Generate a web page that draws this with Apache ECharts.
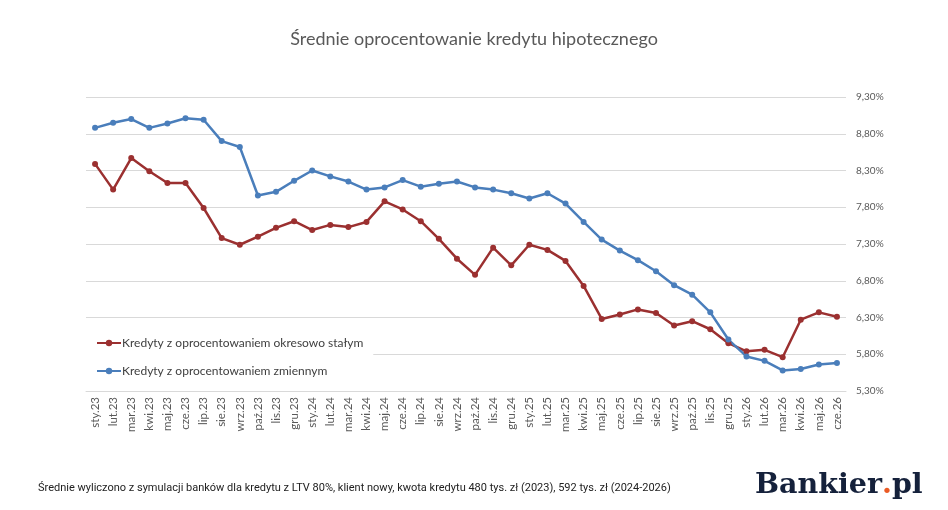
<!DOCTYPE html>
<html>
<head>
<meta charset="utf-8">
<script src="https://cdn.jsdelivr.net/npm/echarts@6/dist/echarts.min.js"></script>
<style>
  html, body { margin: 0; padding: 0; background: #fff; }
  #main { width: 948px; height: 510px; }
</style>
</head>
<body>
<div id="main"></div>
<script>
const months = ['sty.23', 'lut.23', 'mar.23', 'kwi.23', 'maj.23', 'cze.23', 'lip.23', 'sie.23', 'wrz.23', 'paź.23', 'lis.23', 'gru.23',
    'sty.24', 'lut.24', 'mar.24', 'kwi.24', 'maj.24', 'cze.24', 'lip.24', 'sie.24', 'wrz.24', 'paź.24', 'lis.24', 'gru.24',
    'sty.25', 'lut.25', 'mar.25', 'kwi.25', 'maj.25', 'cze.25', 'lip.25', 'sie.25', 'wrz.25', 'paź.25', 'lis.25', 'gru.25',
    'sty.26', 'lut.26', 'mar.26', 'kwi.26', 'maj.26', 'cze.26'];

// okresowo stałe
const fixedRate = [8.39, 8.04, 8.47, 8.29, 8.13, 8.13, 7.79, 7.38, 7.29, 7.40, 7.52, 7.61,
    7.49, 7.56, 7.53, 7.60, 7.88, 7.77, 7.61, 7.37, 7.10, 6.88, 7.25, 7.01,
    7.29, 7.22, 7.07, 6.73, 6.28, 6.34, 6.41, 6.36, 6.19, 6.25, 6.14, 5.95,
    5.84, 5.86, 5.76, 6.27, 6.37, 6.31];

// zmienne
const variableRate = [8.88, 8.95, 9.00, 8.88, 8.94, 9.01, 8.99, 8.70, 8.62, 7.96, 8.01, 8.16,
    8.30, 8.22, 8.15, 8.04, 8.07, 8.17, 8.08, 8.12, 8.15, 8.07, 8.04, 7.99,
    7.92, 7.99, 7.85, 7.60, 7.36, 7.21, 7.08, 6.93, 6.74, 6.61, 6.37, 6.00,
    5.77, 5.71, 5.58, 5.60, 5.66, 5.68];

const yMin = 5.3, yMax = 9.3, yStep = 0.5;

const chart = echarts.init(document.getElementById('main'));
chart.setOption({
    animation: false,
    title: {
        text: 'Średnie oprocentowanie kredytu hipotecznego',
        left: 'center',
        top: 25,
        textStyle: { fontFamily: 'Lato', fontSize: 18, fontWeight: 'normal', color: '#595959' }
    },
    legend: {
        orient: 'vertical',
        left: 86,
        top: 333,
        itemGap: 16,
        itemWidth: 24,
        itemHeight: 8,
        padding: [4, 10, 4, 10],
        backgroundColor: '#fff',
        textStyle: { fontFamily: 'Lato', fontSize: 12, color: '#404040', padding: [0, 0, 0, -4] },
        data: ['Kredyty z oprocentowaniem okresowo stałym', 'Kredyty z oprocentowaniem zmiennym']
    },
    grid: { left: 86, right: 102, top: 97, bottom: 119 },
    xAxis: {
        type: 'category',
        data: months,
        boundaryGap: true,
        axisLine: { lineStyle: { color: '#d9d9d9' } },
        axisTick: { show: false },
        axisLabel: { rotate: 90, fontFamily: 'Lato', fontSize: 11.5, color: '#595959', margin: 6, interval: 0 }
    },
    yAxis: {
        type: 'value',
        position: 'right',
        min: yMin,
        max: yMax,
        interval: yStep,
        axisLine: { show: false },
        axisTick: { show: false },
        splitLine: { lineStyle: { color: '#d9d9d9', width: 1 } },
        axisLabel: {
            fontFamily: 'Lato', fontSize: 10, color: '#595959', margin: 10,
            formatter: v => v.toFixed(2).replace('.', ',') + '%'
        }
    },
    series: [
        {
            name: 'Kredyty z oprocentowaniem okresowo stałym',
            type: 'line',
            data: fixedRate,
            symbol: 'circle',
            symbolSize: 6,
            color: '#9b3030',
            lineStyle: { width: 2.5 },
            z: 3
        },
        {
            name: 'Kredyty z oprocentowaniem zmiennym',
            type: 'line',
            data: variableRate,
            symbol: 'circle',
            symbolSize: 6,
            color: '#4a7ebb',
            lineStyle: { width: 2.5 },
            z: 3
        }
    ],
    graphic: [
        {
            type: 'text',
            left: 38,
            top: 483,
            style: {
                text: 'Średnie wyliczono z symulacji banków dla kredytu z LTV 80%, klient nowy, kwota kredytu 480 tys. zł (2023), 592 tys. zł (2024-2026)',
                fontFamily: 'Roboto', fontSize: 11, fill: '#222'
            }
        },
        {
            type: 'text',
            left: 755,
            top: 471,
            style: {
                text: '{a|Bankier}{b|.}{a|pl}',
                rich: {
                    a: { fontFamily: 'DejaVu Serif', fontWeight: 'bold', fontSize: 28.5, fill: '#15213b', color: '#15213b' },
                    b: { fontFamily: 'DejaVu Serif', fontWeight: 'bold', fontSize: 28.5, fill: '#ea5a24', color: '#ea5a24' }
                }
            }
        }
    ]
});
</script>
</body>
</html>
